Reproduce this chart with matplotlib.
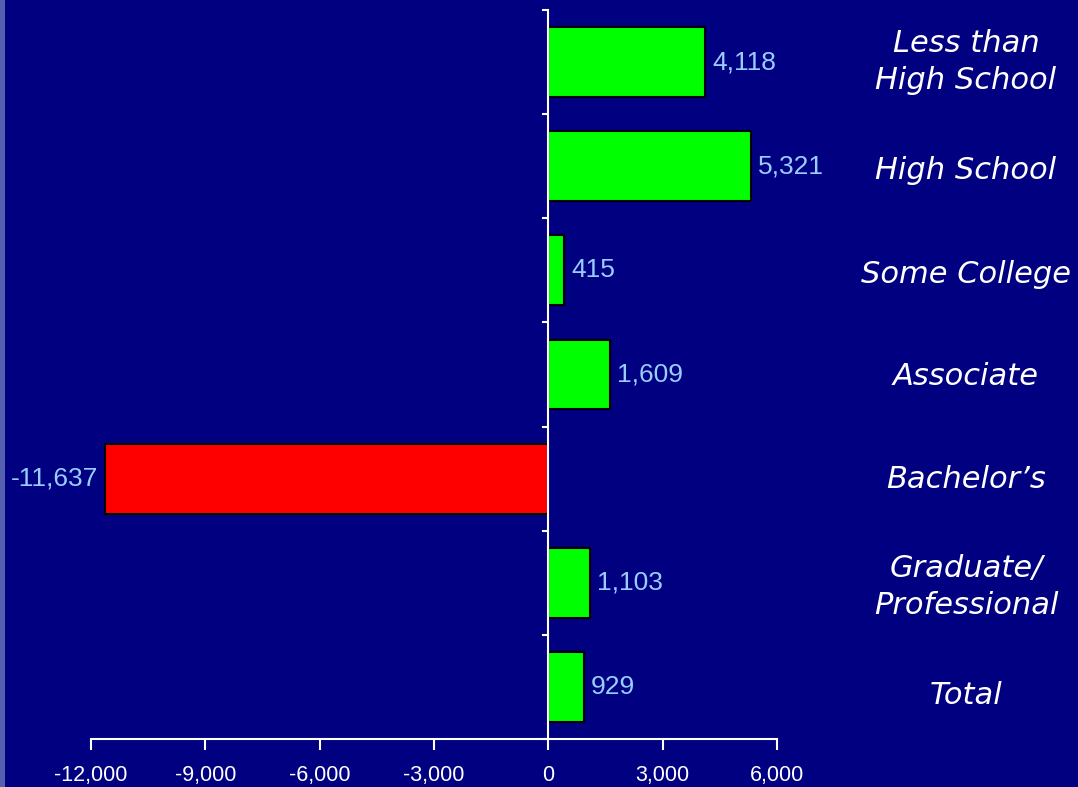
import matplotlib
matplotlib.use("Agg")
import matplotlib.pyplot as plt
from matplotlib.patches import Rectangle
from matplotlib.transforms import blended_transform_factory
from matplotlib import font_manager

categories = ["Less than\nHigh School", "High School", "Some College", "Associate",
              "Bachelor\u2019s", "Graduate/\nProfessional", "Total"]
values = [4118, 5321, 415, 1609, -11637, 1103, 929]
x_ticks = [-12000, -9000, -6000, -3000, 0, 3000, 6000]
x_tick_labels = ["-12,000", "-9,000", "-6,000", "-3,000", "0", "3,000", "6,000"]

BG = "#000080"
POS = "#00ff00"
NEG = "#ff0000"
VAL_COLOR = "#99ccff"

names = {f.name for f in font_manager.fontManager.ttflist}
narrow = "Liberation Sans"
for cand in ["Liberation Sans Narrow", "DejaVu Sans Condensed"]:
    if cand in names:
        narrow = cand
        break
tick_size = 17 if narrow != "Liberation Sans" else 15.5

W, H = 1078, 787
fig = plt.figure(figsize=(W / 100, H / 100), dpi=100, facecolor=BG)
fig.patches.append(Rectangle((0, 0), 5 / W, 1, transform=fig.transFigure,
                             facecolor="#5560b0", edgecolor="none", zorder=0))

ax = fig.add_axes([91 / W, 48 / H, (777 - 91) / W, (739 - 10) / H])
ax.set_facecolor(BG)

n = len(categories)
ypos = list(range(n))
colors = [POS if v >= 0 else NEG for v in values]
ax.barh(ypos, values, height=0.67, color=colors, edgecolor="black", linewidth=1.5, zorder=3)

ax.set_xlim(-12000, 6000)
ax.set_ylim(n - 0.5, -0.5)

for spine in ["top", "right"]:
    ax.spines[spine].set_visible(False)
ax.spines["bottom"].set_color("white")
ax.spines["bottom"].set_linewidth(1.5)
ax.spines["left"].set_color("white")
ax.spines["left"].set_linewidth(1.5)
ax.spines["left"].set_position(("data", 0))
ax.spines["left"].set_zorder(4)

ax.set_xticks(x_ticks)
ax.set_xticklabels(x_tick_labels, fontfamily=narrow, fontsize=tick_size, color="white")
ax.tick_params(axis="x", colors="white", length=8, width=1.5, pad=11)

ax.set_yticks([i - 0.5 for i in range(n + 1)])
ax.set_yticklabels([])
ax.tick_params(axis="y", colors="white", length=4, width=1.5, direction="out")

for i, v in enumerate(values):
    label = f"{v:,}"
    off = 5 if v >= 0 else -5
    ax.annotate(label, (v, i), xytext=(off, 0), textcoords="offset points",
                ha="left" if v >= 0 else "right", va="center", color=VAL_COLOR,
                fontsize=19, fontfamily="Liberation Sans")

label_trans = blended_transform_factory(fig.transFigure, ax.transData)
label_dy = [0.0, 0.04, 0.04, 0.02, 0.01, 0.04, 0.08]
for i, (cat, dy) in enumerate(zip(categories, label_dy)):
    ax.text(966 / W, i + dy, cat, transform=label_trans,
            ha="center", va="center", color="white", fontsize=22, fontstyle="italic",
            fontfamily="DejaVu Sans", linespacing=1.35)

fig.savefig("out.png", dpi=100, facecolor=BG)
